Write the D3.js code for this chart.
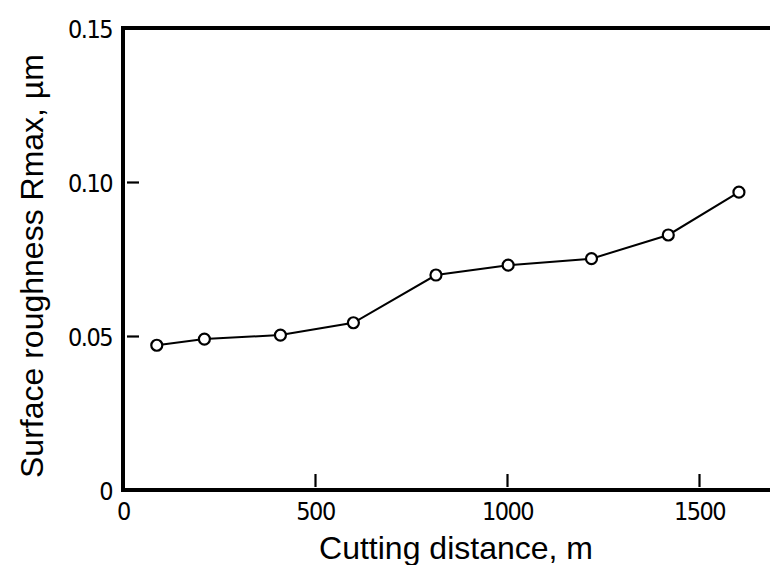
<!DOCTYPE html>
<html>
<head>
<meta charset="utf-8">
<script src="https://cdn.jsdelivr.net/npm/d3@7/dist/d3.min.js"></script>
<style>
  body { margin: 0; background: #fff; }
  svg { display: block; }
  .tick-label { font-family: "DejaVu Sans Condensed", "Liberation Sans", sans-serif; font-size: 25px; fill: #000; }
  .title { font-family: "Liberation Sans", Arial, sans-serif; font-size: 32px; fill: #000; }
</style>
</head>
<body>
<svg id="chart" width="770" height="565"></svg>
<script>
const distance = [88, 212, 410, 600, 815, 1003, 1220, 1420, 1604];
const roughness = [0.047, 0.049, 0.0503, 0.0543, 0.0698, 0.0730, 0.0751, 0.0828, 0.0967];
const xTicks = [0, 500, 1000, 1500];
const yTicks = [0, 0.05, 0.10, 0.15];
const yTickLabels = ["0", "0.05", "0.10", "0.15"];

const svg = d3.select("#chart");
const x0 = 123, y0 = 490, yTop = 28;
const x = d3.scaleLinear().domain([0, 500]).range([x0, x0 + 192]);
const y = d3.scaleLinear().domain([0, 0.15]).range([y0, yTop]);

// Frame: left, top, bottom (open on the right)
svg.append("line").attr("x1", x(0)).attr("x2", x(0)).attr("y1", y(0.15) - 2).attr("y2", y(0) + 2)
  .attr("stroke", "#000").attr("stroke-width", 4);
svg.append("line").attr("x1", x(0) - 2).attr("x2", 770).attr("y1", y(0.15)).attr("y2", y(0.15))
  .attr("stroke", "#000").attr("stroke-width", 4);
svg.append("line").attr("x1", x(0) - 2).attr("x2", 770).attr("y1", y(0)).attr("y2", y(0))
  .attr("stroke", "#000").attr("stroke-width", 4);

// X axis ticks (inward) and labels
const xa = svg.append("g").attr("transform", `translate(0,${y0})`)
  .call(d3.axisBottom(x).tickValues(xTicks).tickSize(0).tickPadding(0).tickFormat(d3.format("d")));
xa.select(".domain").remove();
xa.selectAll(".tick text").attr("class", "tick-label").attr("font-size", null).attr("font-family", null)
  .attr("dy", null).attr("y", 30).attr("letter-spacing", "-1.5");
xa.selectAll(".tick").filter(d => d > 0).append("line")
  .attr("y1", -3).attr("y2", -16).attr("stroke", "#000").attr("stroke-width", 2.2);

// Y axis ticks (inward) and labels
const ya = svg.append("g").attr("transform", `translate(${x0},0)`)
  .call(d3.axisLeft(y).tickValues(yTicks).tickSize(0).tickPadding(0)
    .tickFormat((d, i) => yTickLabels[i]));
ya.select(".domain").remove();
ya.selectAll(".tick text").attr("class", "tick-label").attr("font-size", null).attr("font-family", null)
  .attr("dy", "0.38em").attr("x", -11).attr("letter-spacing", "-1.5");
ya.selectAll(".tick").filter(d => d > 0 && d < 0.15).append("line")
  .attr("x1", 4).attr("x2", 16).attr("stroke", "#000").attr("stroke-width", 2.2);

// Data line
const pts = distance.map((d, i) => [d, roughness[i]]);
svg.append("path").datum(pts)
  .attr("d", d3.line().x(d => x(d[0])).y(d => y(d[1])))
  .attr("fill", "none").attr("stroke", "#000").attr("stroke-width", 2);
svg.selectAll("circle.pt").data(pts).enter().append("circle").attr("class", "pt")
  .attr("cx", d => x(d[0])).attr("cy", d => y(d[1])).attr("r", 5.5)
  .attr("fill", "#fff").attr("stroke", "#000").attr("stroke-width", 2.2);

// Axis titles
svg.append("text").attr("class", "title").attr("x", 456).attr("y", 559)
  .attr("text-anchor", "middle").text("Cutting distance, m");
svg.append("text").attr("class", "title")
  .attr("transform", "translate(43,266) rotate(-90)")
  .attr("text-anchor", "middle").text("Surface roughness Rmax, µm");
</script>
</body>
</html>
